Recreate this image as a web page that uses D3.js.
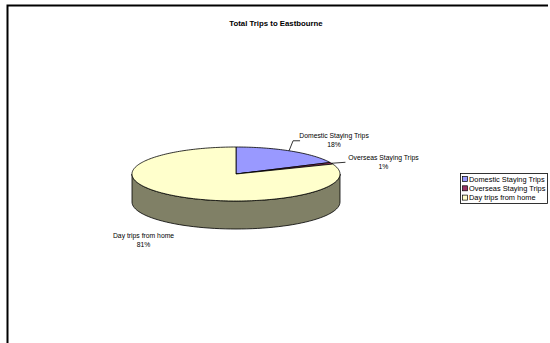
<!DOCTYPE html>
<html><head><meta charset="utf-8">
<script src="https://cdn.jsdelivr.net/npm/d3@7"></script>
<style>html,body{margin:0;padding:0;background:#fff;overflow:hidden}</style>
</head><body>
<svg id="c" width="550" height="343"></svg>
<script>
const title = "Total Trips to Eastbourne";
const categories = ["Domestic Staying Trips", "Overseas Staying Trips", "Day trips from home"];
const values = [18, 1, 81];
const pctLabels = ["18%", "1%", "81%"];
const topColors = ["#9999FF", "#993366", "#FFFFCC"];
const sideColors = ["#4d4d80", "#4d1a33", "#808066"];

const svg = d3.select("#c");
const font = "'Liberation Sans', Arial, sans-serif";

// border
svg.append("path").attr("d", "M7.5,600 L7.5,5.5 L548,5.5")
  .attr("fill", "none").attr("stroke", "#000").attr("stroke-width", 2);

svg.append("text").attr("x", 276).attr("y", 26).attr("text-anchor", "middle")
  .attr("font-family", font).attr("font-weight", "bold").attr("font-size", 7.8)
  .text(title);

const cx = 236, cy = 174, rx = 104, ry = 27, depth = 28;
const pie = d3.pie().sort(null).value(d => d)(values);
const px = a => cx + rx * Math.sin(a);
const py = a => cy - ry * Math.cos(a);

// side (front half only: angles PI/2..3PI/2)
const g = svg.append("g");
pie.forEach((s, i) => {
  const a0 = Math.max(s.startAngle, Math.PI / 2), a1 = Math.min(s.endAngle, 3 * Math.PI / 2);
  if (a1 <= a0) return;
  const n = 60, p = d3.path();
  for (let k = 0; k <= n; k++) {
    const a = a0 + (a1 - a0) * k / n;
    k === 0 ? p.moveTo(px(a), py(a)) : p.lineTo(px(a), py(a));
  }
  for (let k = n; k >= 0; k--) {
    const a = a0 + (a1 - a0) * k / n;
    p.lineTo(px(a), py(a) + depth);
  }
  p.closePath();
  g.append("path").attr("d", p.toString()).attr("fill", sideColors[i])
    .attr("stroke", "#000").attr("stroke-width", 0.8);
});

// top face
pie.forEach((s, i) => {
  const n = Math.max(4, Math.ceil((s.endAngle - s.startAngle) * 40)), p = d3.path();
  p.moveTo(cx, cy);
  for (let k = 0; k <= n; k++) {
    const a = s.startAngle + (s.endAngle - s.startAngle) * k / n;
    p.lineTo(px(a), py(a));
  }
  p.closePath();
  g.append("path").attr("d", p.toString()).attr("fill", topColors[i])
    .attr("stroke", "#000").attr("stroke-width", 0.8).attr("stroke-linejoin", "round");
});

// data labels
const lab = svg.append("g").attr("font-family", font).attr("font-size", 6.8).attr("fill", "#000");
function addLabel(i, tx, ty) {
  const t = lab.append("text").attr("text-anchor", "middle");
  t.append("tspan").attr("x", tx).attr("y", ty).text(categories[i]);
  t.append("tspan").attr("x", tx).attr("y", ty + 8.8).text(pctLabels[i]);
}
// Domestic
{
  const m = (pie[0].startAngle + pie[0].endAngle) / 2 - 0.03;
  const ex = px(m), ey = py(m);
  svg.append("path").attr("d", `M${ex},${ey} L${ex + 4},${ey - 10} L${ex + 11},${ey - 10}`)
    .attr("fill", "none").attr("stroke", "#000").attr("stroke-width", 0.8);
  addLabel(0, ex + 45, ey - 13);
}
// Overseas
{
  const m = (pie[1].startAngle + pie[1].endAngle) / 2;
  const ex = px(m), ey = py(m);
  svg.append("path").attr("d", `M${ex},${ey} L${ex + 14},${ey - 1}`)
    .attr("fill", "none").attr("stroke", "#000").attr("stroke-width", 0.8);
  addLabel(1, ex + 52, ey - 3);
}
// Day trips
{
  const m = (pie[2].startAngle + pie[2].endAngle) / 2;
  addLabel(2, px(m) - 34, py(m) + depth + 14);
}

// legend
const lg = svg.append("g");
lg.append("rect").attr("x", 460.5).attr("y", 173.5).attr("width", 87).attr("height", 30)
  .attr("fill", "#fff").attr("stroke", "#000").attr("stroke-width", 0.8);
categories.forEach((c, i) => {
  const y = 179 + i * 9.3;
  lg.append("rect").attr("x", 462.5).attr("y", y - 2.5).attr("width", 5).attr("height", 5)
    .attr("fill", topColors[i]).attr("stroke", "#000").attr("stroke-width", 0.7);
  lg.append("text").attr("x", 469).attr("y", y + 2.6).attr("font-family", font)
    .attr("font-size", 7.4).text(c);
});
</script>
</body></html>
